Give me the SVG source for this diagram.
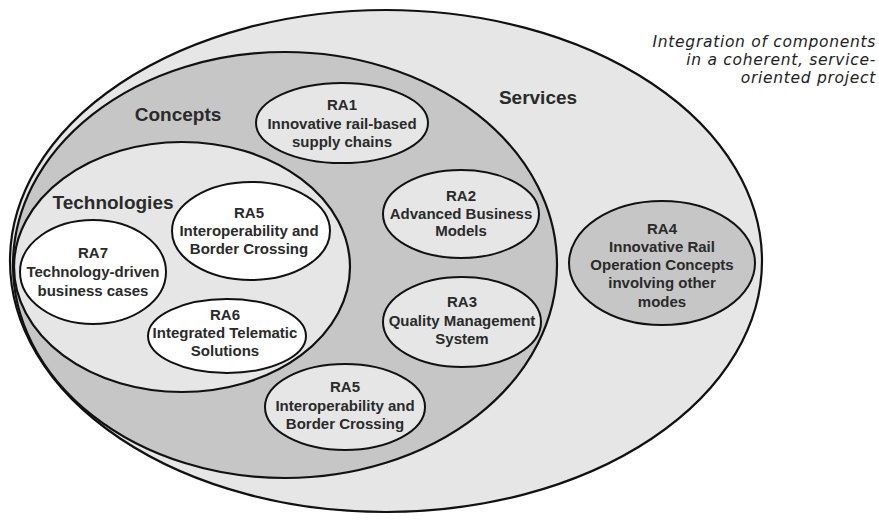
<svg xmlns="http://www.w3.org/2000/svg" width="879" height="520" viewBox="0 0 879 520">
  <style>
    .ring { stroke: #111; stroke-width: 2.2; }
    .node { stroke: #111; stroke-width: 2; }
    .light { fill: #e6e6e6; }
    .mid { fill: #c6c6c6; }
    .white { fill: #ffffff; }
    .lbl { font-family: "Liberation Sans", Arial, sans-serif; font-weight: bold; font-size: 15px; fill: #2a2a2a; text-anchor: middle; }
    .area { font-family: "Liberation Sans", Arial, sans-serif; font-weight: bold; font-size: 19px; fill: #2a2a2a; text-anchor: middle; }
    .note { font-family: "DejaVu Sans", "Liberation Sans", sans-serif; font-style: italic; font-size: 15.5px; letter-spacing: 0.7px; fill: #222; text-anchor: end; }
  </style>

  <rect width="879" height="520" fill="#ffffff"/>

  <!-- nested areas -->
  <g id="services">
    <ellipse class="ring light" cx="386" cy="261" rx="376" ry="251"/>
    <text class="area" x="538" y="104">Services</text>
  </g>
  <g id="concepts">
    <ellipse class="ring mid" cx="285" cy="265" rx="272" ry="213"/>
    <text class="area" x="178" y="121">Concepts</text>
  </g>
  <g id="technologies">
    <ellipse class="ring light" cx="182" cy="267" rx="168" ry="125"/>
    <text class="area" x="113" y="209">Technologies</text>
  </g>

  <!-- research areas -->
  <g id="ra1">
    <ellipse class="node light" cx="342" cy="123" rx="86" ry="40"/>
    <text class="lbl" x="342" y="110">RA1</text>
    <text class="lbl" x="342" y="128.5">Innovative rail-based</text>
    <text class="lbl" x="342" y="147">supply chains</text>
  </g>
  <g id="ra2">
    <ellipse class="node light" cx="461" cy="214" rx="78" ry="44"/>
    <text class="lbl" x="461" y="201">RA2</text>
    <text class="lbl" x="461" y="218.5">Advanced Business</text>
    <text class="lbl" x="461" y="236">Models</text>
  </g>
  <g id="ra3">
    <ellipse class="node light" cx="462" cy="322" rx="79" ry="45"/>
    <text class="lbl" x="462" y="307">RA3</text>
    <text class="lbl" x="462" y="325.5">Quality Management</text>
    <text class="lbl" x="462" y="344">System</text>
  </g>
  <g id="ra4">
    <ellipse class="node mid" cx="662" cy="263" rx="93" ry="62"/>
    <text class="lbl" x="662" y="234">RA4</text>
    <text class="lbl" x="662" y="252">Innovative Rail</text>
    <text class="lbl" x="662" y="270">Operation Concepts</text>
    <text class="lbl" x="662" y="288">involving other</text>
    <text class="lbl" x="662" y="307">modes</text>
  </g>
  <g id="ra5-tech">
    <ellipse class="node white" cx="251" cy="231" rx="79" ry="49"/>
    <text class="lbl" x="249" y="218">RA5</text>
    <text class="lbl" x="249" y="236">Interoperability and</text>
    <text class="lbl" x="249" y="253.5">Border Crossing</text>
  </g>
  <g id="ra7">
    <ellipse class="node white" cx="93" cy="272" rx="73" ry="52"/>
    <text class="lbl" x="93" y="258">RA7</text>
    <text class="lbl" x="93" y="277">Technology-driven</text>
    <text class="lbl" x="93" y="296">business cases</text>
  </g>
  <g id="ra6">
    <ellipse class="node white" cx="227" cy="336" rx="79" ry="37"/>
    <text class="lbl" x="225" y="320">RA6</text>
    <text class="lbl" x="225" y="338">Integrated Telematic</text>
    <text class="lbl" x="225" y="356">Solutions</text>
  </g>
  <g id="ra5-concepts">
    <ellipse class="node light" cx="345" cy="407" rx="80" ry="43"/>
    <text class="lbl" x="345" y="392">RA5</text>
    <text class="lbl" x="345" y="410.5">Interoperability and</text>
    <text class="lbl" x="345" y="429">Border Crossing</text>
  </g>

  <!-- no connectors in this diagram -->
  <g id="connectors"/>

  <g id="caption">
    <text class="note" x="876" y="47">Integration of components</text>
    <text class="note" x="876" y="65">in a coherent, service-</text>
    <text class="note" x="876" y="83">oriented project</text>
  </g>
</svg>
